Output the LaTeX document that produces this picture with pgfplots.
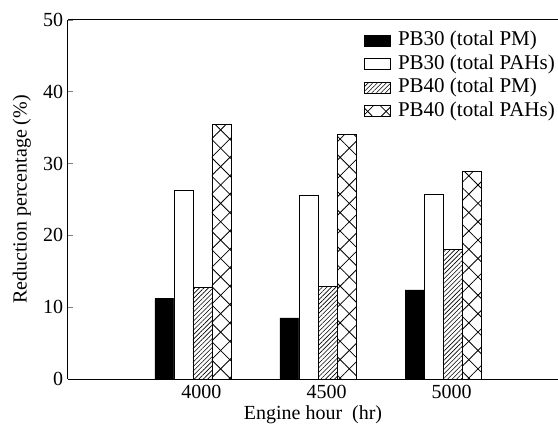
\documentclass[border=0pt]{standalone}
\usepackage{pgfplots}
\pgfplotsset{compat=1.18}
\usepackage{fontspec}
\setmainfont{Liberation Serif}
\usetikzlibrary{patterns,patterns.meta}
\begin{document}
\fontsize{20bp}{24bp}\selectfont
\begin{tikzpicture}
\pgfplotsset{myleg/.style={legend image code/.code={\path[draw=none,fill=none] (0bp,0bp) (30bp,0bp); \draw[##1] (0bp,-5.5bp) rectangle (26bp,5.5bp);}}}
\begin{axis}[
  scale only axis, width=490bp, height=359bp,
  xmin=3500, xmax=5460, ymin=0, ymax=50,
  axis x line*=box, axis y line*=left,
  axis line style={line width=1bp},
  ybar, bar width=19bp,
  ytick={0,10,20,30,40,50},
  ytick pos=left, tick align=inside, major tick length=5bp,
  ytick style={line width=0.8bp},
  xtick={4000,4500,5000},
  xtick style={draw=none},
  xticklabel style={xshift=8.5bp, yshift=1bp},
  yticklabel style={xshift=2bp},
  /pgf/number format/assume math mode=true,
  /pgf/number format/1000 sep={},
  xlabel={Engine hour\ \ (hr)},
  ylabel={Reduction percentage (\%)},
  every axis x label/.style={at={(axis description cs:0.5,-0.1)}, anchor=center},
  every axis y label/.style={at={(axis description cs:-0.094,0.5)}, rotate=90, anchor=center},
  legend style={draw=none, fill=none, at={(axis description cs:1.0,0.976)}, anchor=north east,
    inner sep=0pt, row sep=0pt, font=\fontsize{21bp}{24bp}\selectfont,
    nodes={text height=14bp, text depth=4bp, inner ysep=2.8bp, inner xsep=3bp}},
  legend cell align=left,
]
\addplot[myleg, bar shift=-28.5bp, fill=black, draw=black, line width=0.9bp]
  coordinates {(4000,11.2) (4500,8.5) (5000,12.4)};
\addplot[myleg, bar shift=-9.5bp, fill=white, draw=black, line width=0.9bp]
  coordinates {(4000,26.3) (4500,25.5) (5000,25.7)};
\addplot[myleg, bar shift=9.5bp, draw=black, line width=0.9bp,
  pattern={Lines[angle=45,distance=3.2bp,line width=0.6bp]}]
  coordinates {(4000,12.8) (4500,12.9) (5000,18.1)};
\addplot[myleg, bar shift=28.5bp, draw=black, line width=0.9bp,
  pattern={Lines[angle=45,distance=13bp,line width=0.8bp]},
  postaction={pattern={Lines[angle=-45,distance=13bp,line width=0.8bp]}}]
  coordinates {(4000,35.5) (4500,34.0) (5000,28.9)};
\legend{PB30 (total PM), PB30 (total PAHs), PB40 (total PM), PB40 (total PAHs)}
\coordinate (bl) at (rel axis cs:0,0);
\coordinate (tr) at (rel axis cs:1,1);
\end{axis}
\pgfresetboundingbox
\path ([shift={(-68bp,-45bp)}]bl) rectangle ([shift={(0bp,20bp)}]tr);
\end{tikzpicture}
\end{document}
